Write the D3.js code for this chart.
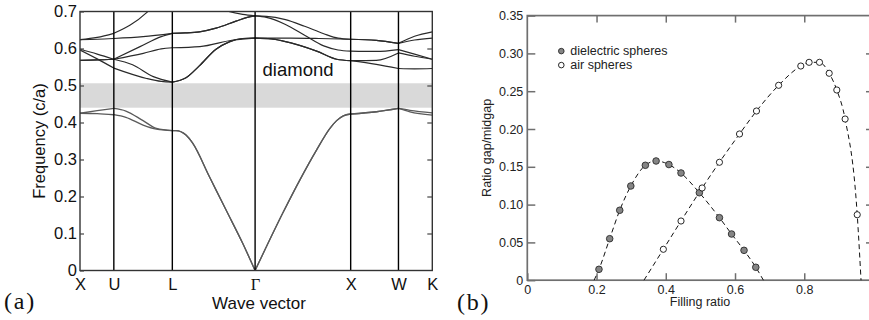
<!DOCTYPE html>
<html>
<head>
<meta charset="utf-8">
<script src="https://cdn.jsdelivr.net/npm/d3@7"></script>
<style>
  body { margin: 0; background: #fff; }
  svg { display: block; }
  text { font-family: "Liberation Sans", Arial, Helvetica, sans-serif; }
</style>
</head>
<body>
<svg id="chart" width="869" height="320"></svg>
<script>
// ---------- Panel (a): photonic band structure of the diamond lattice ----------
const kLabels = ["X", "U", "L", "\u0393", "X", "W", "K"];
const kPos = [0, 0.354, 0.966, 1.832, 2.832, 3.332, 3.686];   // path length, units of 2π/a
const freqTicks = [0, 0.1, 0.2, 0.3, 0.4, 0.5, 0.6, 0.7];
const gapRange = [0.440, 0.506];

// bands as [path position, frequency c/a]
const band1 = [[0,0.425],[0.18,0.424],[0.354,0.421],[0.48,0.414],[0.66,0.393],[0.80,0.382],[0.966,0.378],
  [1.004,0.378],[1.109,0.366],[1.179,0.344],[1.353,0.254],[1.527,0.164],[1.702,0.0735],[1.832,0],
  [2.127,0.158],[2.301,0.245],[2.476,0.326],[2.615,0.384],[2.685,0.405],[2.755,0.418],[2.832,0.423],
  [3.103,0.429],[3.332,0.438],[3.452,0.429],[3.686,0.420]];
const band2 = [[0,0.425],[0.18,0.432],[0.354,0.438],[0.48,0.431],[0.66,0.405],[0.80,0.384],[0.966,0.378],
  [1.004,0.378],[1.109,0.366],[1.179,0.344],[1.353,0.254],[1.527,0.164],[1.702,0.0735],[1.832,0],
  [2.127,0.158],[2.301,0.245],[2.476,0.326],[2.615,0.384],[2.685,0.405],[2.755,0.418],[2.832,0.423],
  [3.103,0.429],[3.332,0.438],[3.452,0.433],[3.686,0.426]];
const band3 = [[0,0.596],[0.18,0.572],[0.354,0.547],[0.697,0.519],[0.85,0.511],[0.966,0.509],
  [1.109,0.521],[1.248,0.553],[1.423,0.598],[1.562,0.618],[1.702,0.627],[1.832,0.628],
  [2.0,0.626],[2.127,0.620],[2.476,0.593],[2.685,0.571],[2.832,0.567],
  [3.1,0.557],[3.332,0.546],[3.5,0.545],[3.686,0.546]];
const band4 = [[0,0.568],[0.18,0.569],[0.354,0.571],[0.55,0.556],[0.767,0.524],[0.966,0.509],
  [1.109,0.521],[1.248,0.553],[1.423,0.598],[1.562,0.618],[1.702,0.627],[1.832,0.628],
  [2.0,0.626],[2.127,0.620],[2.476,0.593],[2.685,0.571],[2.832,0.567],
  [3.1,0.568],[3.332,0.588],[3.5,0.579],[3.686,0.571]];
const band5 = [[0,0.598],[0.18,0.585],[0.354,0.571],[0.663,0.587],[0.85,0.599],[0.966,0.602],
  [1.255,0.605],[1.604,0.623],[1.832,0.628],
  [2.2,0.628],[2.5,0.627],[2.832,0.625],
  [3.1,0.622],[3.332,0.614],[3.5,0.623],[3.686,0.628]];
const band6 = [[0,0.568],[0.18,0.569],[0.354,0.571],[0.628,0.605],[0.85,0.632],[0.966,0.641],
  [1.1,0.642],[1.25,0.645],[1.423,0.655],[1.632,0.674],[1.75,0.684],[1.832,0.688],
  [1.95,0.684],[2.15,0.665],[2.35,0.636],[2.55,0.607],[2.7,0.596],[2.832,0.593],
  [3.1,0.592],[3.332,0.597],[3.5,0.585],[3.686,0.571]];
const band7 = [[0,0.624],[0.18,0.625],[0.354,0.627],[0.66,0.632],[0.966,0.641],
  [1.1,0.642],[1.25,0.645],[1.423,0.655],[1.632,0.674],[1.75,0.684],[1.832,0.688],
  [1.95,0.687],[2.15,0.678],[2.35,0.660],[2.55,0.640],[2.7,0.628],[2.832,0.625],
  [3.1,0.622],[3.332,0.614],[3.5,0.633],[3.686,0.645]];
const band8 = [[0,0.624],[0.18,0.630],[0.354,0.641],[0.697,0.697],[0.85,0.74],[0.966,0.76],
  [1.3,0.725],[1.545,0.701],[1.702,0.692],[1.832,0.688]];
const lowerBands = [band1, band2];
const upperBands = [band3, band4, band5, band6, band7, band8];

// ---------- Panel (b): gap/midgap ratio vs filling ratio ----------
const fillTicks = [0, 0.2, 0.4, 0.6, 0.8];
const ratioTicks = [0, 0.05, 0.10, 0.15, 0.20, 0.25, 0.30, 0.35];
const dielectricFill  = [0.207, 0.238, 0.267, 0.299, 0.341, 0.372, 0.409, 0.444, 0.497, 0.555, 0.590, 0.626, 0.660];
const dielectricRatio = [0.0144, 0.0549, 0.0925, 0.1246, 0.152, 0.1577, 0.153, 0.1418, 0.1157, 0.0827, 0.0611, 0.0395, 0.0171];
const airFill  = [0.393, 0.444, 0.505, 0.555, 0.613, 0.662, 0.726, 0.790, 0.814, 0.844, 0.872, 0.894, 0.918, 0.953];
const airRatio = [0.0409, 0.0783, 0.122, 0.156, 0.1934, 0.2238, 0.2578, 0.2833, 0.2882, 0.2882, 0.2737, 0.2516, 0.2132, 0.0866];
// where the fitted curves close the gap
const dielectricGapEnds = [0.193, 0.682];
const airGapEnds = [0.337, 0.964];
const seriesNames = ["dielectric spheres", "air spheres"];

const svg = d3.select("#chart");
const defs = svg.append("defs");

// ===================== Panel (a) =====================
const A = { left: 80, right: 432.3, top: 11.5, bottom: 270.5 };
const kMax = kPos[kPos.length - 1];
const xA = d3.scaleLinear().domain([0, kMax]).range([A.left, A.right]);
const yA = d3.scaleLinear().domain([0, 0.7]).range([A.bottom, A.top]);

defs.append("clipPath").attr("id", "clipA").append("rect")
  .attr("x", A.left).attr("y", A.top)
  .attr("width", A.right - A.left).attr("height", A.bottom - A.top);

const gA = svg.append("g");

// photonic band gap
gA.append("rect")
  .attr("x", xA(0)).attr("width", xA(kMax) - xA(0))
  .attr("y", yA(gapRange[1])).attr("height", yA(gapRange[0]) - yA(gapRange[1]))
  .attr("fill", "#d9d9d9");

// split each band at the symmetry points so kinks are kept there
const isSym = d => kPos.some(k => Math.abs(k - d) < 1e-9);
function splitAtSymmetry(band) {
  const segs = [];
  let cur = [band[0]];
  for (let i = 1; i < band.length; i++) {
    cur.push(band[i]);
    if (isSym(band[i][0]) && i < band.length - 1) { segs.push(cur); cur = [band[i]]; }
  }
  if (cur.length > 1) segs.push(cur);
  return segs;
}
const bandLine = d3.line().x(d => xA(d[0])).y(d => yA(d[1])).curve(d3.curveMonotoneX);

const gBands = gA.append("g").attr("clip-path", "url(#clipA)").attr("fill", "none");
lowerBands.forEach(b => splitAtSymmetry(b).forEach(s =>
  gBands.append("path").attr("d", bandLine(s)).attr("stroke", "#5a5a5a").attr("stroke-width", 1.3)));
upperBands.forEach(b => splitAtSymmetry(b).forEach(s =>
  gBands.append("path").attr("d", bandLine(s)).attr("stroke", "#2a2a2a").attr("stroke-width", 1.2)));

// vertical lines at the symmetry points
gA.append("g").selectAll("line").data(kPos.slice(1, -1)).join("line")
  .attr("x1", d => xA(d)).attr("x2", d => xA(d))
  .attr("y1", yA(0)).attr("y2", yA(0.7))
  .attr("stroke", "#000").attr("stroke-width", 1.4);

// frame
gA.append("rect")
  .attr("x", A.left).attr("y", A.top)
  .attr("width", A.right - A.left).attr("height", A.bottom - A.top)
  .attr("fill", "none").attr("stroke", "#333").attr("stroke-width", 1.4);

// left axis labels with inward ticks
const axLeftA = gA.append("g").attr("transform", `translate(${A.left},0)`)
  .call(d3.axisLeft(yA).tickValues(freqTicks).tickSizeInner(-4).tickSizeOuter(0).tickPadding(3)
    .tickFormat(d => d === 0 ? "0" : d3.format(".1f")(d)));
axLeftA.select(".domain").remove();
axLeftA.selectAll("text").attr("font-size", 16.5).attr("fill", "#111")
  .style("font-family", "'Liberation Sans', Arial, sans-serif");
axLeftA.selectAll("line").attr("stroke", "#444").attr("stroke-width", 1.2);

// right side inward ticks
const axRightA = gA.append("g").attr("transform", `translate(${A.right},0)`)
  .call(d3.axisRight(yA).tickValues(freqTicks.slice(1, -1)).tickSizeInner(-5).tickSizeOuter(0).tickFormat(""));
axRightA.select(".domain").remove();
axRightA.selectAll("line").attr("stroke", "#444").attr("stroke-width", 1.2);

// symmetry-point labels
const axBottomA = gA.append("g").attr("transform", `translate(0,${A.bottom})`)
  .call(d3.axisBottom(xA).tickValues(kPos).tickSize(0).tickPadding(7.3).tickFormat((d, i) => kLabels[i]));
axBottomA.select(".domain").remove();
axBottomA.selectAll("text").attr("font-size", 16.5).attr("fill", "#111")
  .style("font-family", (d, i) => kLabels[i] === "\u0393" ? "'Liberation Serif', 'DejaVu Serif', serif" : "'Liberation Sans', Arial, sans-serif");

// axis titles
gA.append("text")
  .attr("transform", `translate(45,${(A.top + A.bottom) / 2}) rotate(-90)`)
  .attr("text-anchor", "middle").attr("font-size", 16.5).attr("fill", "#111")
  .text("Frequency (c/a)");
gA.append("text")
  .attr("x", 259).attr("y", 309)
  .attr("text-anchor", "middle").attr("font-size", 17).attr("fill", "#111")
  .text("Wave vector");
gA.append("text")
  .attr("x", xA(1.91)).attr("y", 76)
  .attr("font-size", 18.5).attr("fill", "#111")
  .text("diamond");
gA.append("text")
  .attr("x", 4).attr("y", 309)
  .attr("font-size", 24).attr("letter-spacing", 1.8).attr("fill", "#111")
  .style("font-family", "'Liberation Serif', 'Times New Roman', serif")
  .text("(a)");

// ===================== Panel (b) =====================
const B = { left: 527.3, right: 873.5, top: 15.6, bottom: 280.2 };
const xB = d3.scaleLinear().domain([0, 1]).range([B.left, B.right]);
const yB = d3.scaleLinear().domain([0, 0.35]).range([B.bottom, B.top]);
const gB = svg.append("g");
const axisGrey = "#6f6f6f";

// frame (right edge lies just beyond the canvas)
gB.append("rect")
  .attr("x", B.left).attr("y", B.top)
  .attr("width", B.right - B.left).attr("height", B.bottom - B.top)
  .attr("fill", "none").attr("stroke", axisGrey).attr("stroke-width", 1.7);

const fmtRatio = d => d === 0 ? "0" : d3.format(".2f")(d);
const fmtFill = d => d === 0 ? "0" : d3.format(".1f")(d);

const axLeftB = gB.append("g").attr("transform", `translate(${B.left},0)`)
  .call(d3.axisLeft(yB).tickValues(ratioTicks).tickSizeInner(-8).tickSizeOuter(0).tickPadding(4).tickFormat(fmtRatio));
const axBottomB = gB.append("g").attr("transform", `translate(0,${B.bottom})`)
  .call(d3.axisBottom(xB).tickValues(fillTicks).tickSizeInner(-7).tickSizeOuter(0).tickPadding(4.5).tickFormat(fmtFill));
const axTopB = gB.append("g").attr("transform", `translate(0,${B.top})`)
  .call(d3.axisTop(xB).tickValues(fillTicks.slice(1)).tickSizeInner(-7).tickSizeOuter(0).tickFormat(""));
const axRightB = gB.append("g").attr("transform", `translate(${B.right},0)`)
  .call(d3.axisRight(yB).tickValues(ratioTicks.slice(1, -1)).tickSizeInner(-7.5).tickSizeOuter(0).tickFormat(""));
[axLeftB, axBottomB, axTopB, axRightB].forEach(ax => {
  ax.select(".domain").remove();
  ax.selectAll("line").attr("stroke", axisGrey).attr("stroke-width", 1.5);
  ax.selectAll("text").attr("font-size", 12.5).attr("fill", "#222")
    .style("font-family", "'Liberation Sans', Arial, sans-serif");
});

// fitted dashed curves
const fitLine = d3.line().x(d => xB(d[0])).y(d => yB(d[1])).curve(d3.curveMonotoneX);
const dielectricPts = dielectricFill.map((f, i) => [f, dielectricRatio[i]]);
const airPts = airFill.map((f, i) => [f, airRatio[i]]);
const dielectricCurve = [[dielectricGapEnds[0], 0], ...dielectricPts, [dielectricGapEnds[1], 0]];
const airCurve = [[airGapEnds[0], 0], ...airPts, [airGapEnds[1], 0]];
[dielectricCurve, airCurve].forEach(c =>
  gB.append("path").attr("d", fitLine(c))
    .attr("fill", "none").attr("stroke", "#111").attr("stroke-width", 1)
    .attr("stroke-dasharray", "5,3.5"));

// markers
gB.append("g").selectAll("circle").data(dielectricPts).join("circle")
  .attr("cx", d => xB(d[0])).attr("cy", d => yB(d[1])).attr("r", 3.3)
  .attr("fill", "#858585").attr("stroke", "#2a2a2a").attr("stroke-width", 0.9);
gB.append("g").selectAll("circle").data(airPts).join("circle")
  .attr("cx", d => xB(d[0])).attr("cy", d => yB(d[1])).attr("r", 3.1)
  .attr("fill", "#fff").attr("stroke", "#111").attr("stroke-width", 0.9);

// legend
const legend = gB.append("g").attr("transform", `translate(${B.left + 34},${B.top + 35.5})`);
const legendStyles = [{ fill: "#858585", stroke: "#2a2a2a" }, { fill: "#fff", stroke: "#111" }];
seriesNames.forEach((name, i) => {
  const row = legend.append("g").attr("transform", `translate(0,${i * 14})`);
  row.append("circle").attr("r", 2.8)
    .attr("fill", legendStyles[i].fill).attr("stroke", legendStyles[i].stroke).attr("stroke-width", 0.9);
  row.append("text").attr("x", 9).attr("dy", "0.35em")
    .attr("font-size", 12.5).attr("fill", "#222").text(name);
});

// axis titles
gB.append("text")
  .attr("transform", `translate(491,${(B.top + B.bottom) / 2}) rotate(-90)`)
  .attr("text-anchor", "middle").attr("font-size", 12.5).attr("fill", "#222")
  .text("Ratio gap/midgap");
gB.append("text")
  .attr("x", 700).attr("y", 306)
  .attr("text-anchor", "middle").attr("font-size", 12.5).attr("fill", "#222")
  .text("Filling ratio");
gB.append("text")
  .attr("x", 457).attr("y", 310)
  .attr("font-size", 24).attr("letter-spacing", 1.8).attr("fill", "#111")
  .style("font-family", "'Liberation Serif', 'Times New Roman', serif")
  .text("(b)");
</script>
</body>
</html>
